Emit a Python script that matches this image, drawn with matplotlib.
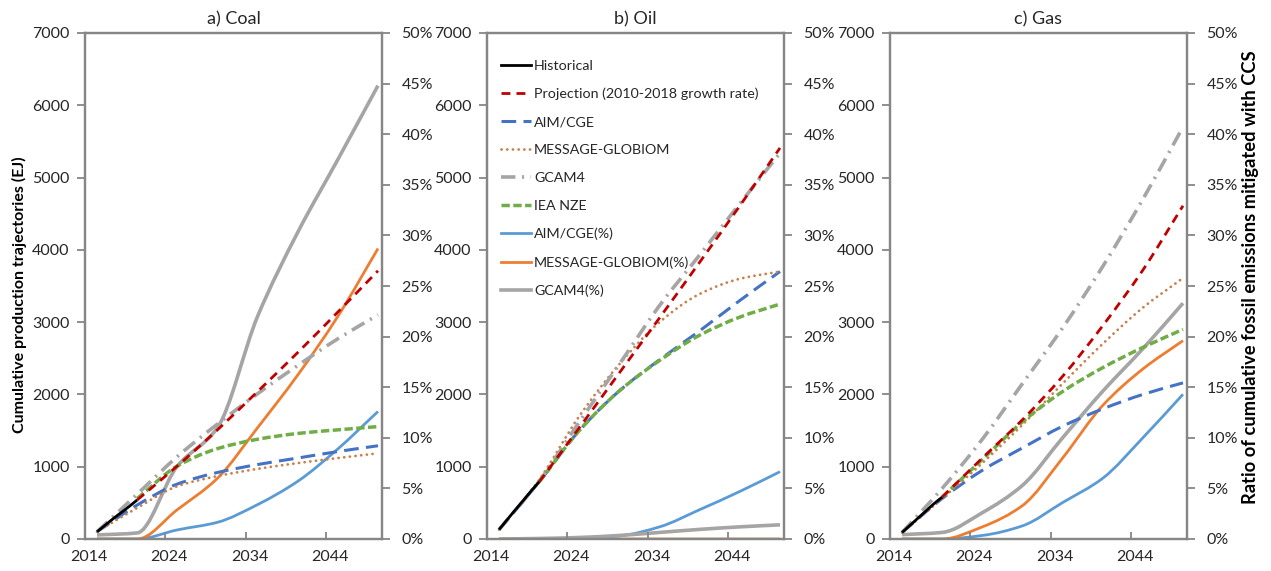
import matplotlib
matplotlib.use("Agg")
import matplotlib.pyplot as plt
from matplotlib.ticker import FixedLocator, NullFormatter
from matplotlib.path import Path
from matplotlib.patches import PathPatch
from matplotlib.lines import Line2D

plt.rcParams['font.family'] = ['Lato', 'DejaVu Sans']

# ---------------- data ----------------
hist_years = [2015, 2016, 2017, 2018, 2019, 2020]
years = [2015, 2020, 2025, 2030, 2035, 2040, 2045, 2050]
proj_years = [2020, 2025, 2030, 2035, 2040, 2045, 2050]

# Coal (EJ)
coal_hist = [100, 190, 280, 365, 450, 540]
coal_proj = [540, 1010, 1510, 2040, 2580, 3140, 3710]
coal_aim = [100, 470, 760, 920, 1030, 1120, 1210, 1290]
coal_message = [100, 430, 730, 870, 970, 1050, 1120, 1185]
coal_gcam = [100, 620, 1140, 1590, 2010, 2400, 2770, 3100]
coal_iea = [560, 1010, 1250, 1380, 1460, 1510, 1555]
# Coal, share mitigated with CCS (%)
coal_aim_pct = [0, 0, 0.9, 1.65, 3.4, 5.7, 8.9, 12.6]
coal_message_pct = [0, 0, 2.9, 6.0, 11.0, 16.2, 22.0, 28.7]
coal_gcam_pct = [0.4, 0.6, 7.2, 11.0, 22.0, 30.3, 37.5, 44.8]

# Oil (EJ)
oil_hist = [130, 265, 400, 530, 665, 790]
oil_proj = [790, 1540, 2300, 3060, 3830, 4610, 5410]
oil_aim = [130, 790, 1500, 2050, 2480, 2880, 3300, 3700]
oil_message = [130, 820, 1700, 2420, 3000, 3390, 3600, 3700]
oil_gcam = [130, 800, 1620, 2420, 3230, 3930, 4640, 5340]
oil_iea = [790, 1500, 2050, 2470, 2820, 3070, 3250]
# Oil (%)
oil_aim_pct = [0, 0, 0.05, 0.3, 1.2, 2.9, 4.7, 6.65]
oil_message_pct = [0, 0, 0, 0, 0, 0, 0]
oil_gcam_pct = [0, 0.05, 0.15, 0.35, 0.65, 0.95, 1.2, 1.4]

# Gas (EJ)
gas_hist = [90, 190, 290, 390, 490, 580]
gas_proj = [580, 1120, 1650, 2250, 2950, 3720, 4610]
gas_aim = [90, 560, 950, 1260, 1560, 1800, 2000, 2160]
gas_message = [90, 560, 1050, 1580, 2150, 2700, 3200, 3610]
gas_gcam = [90, 700, 1380, 2150, 2920, 3770, 4700, 5700]
gas_iea = [580, 1100, 1620, 2040, 2370, 2650, 2900]
# Gas (%)
gas_aim_pct = [0, 0, 0.35, 1.3, 3.6, 6.0, 10.0, 14.3]
gas_message_pct = [0, 0, 1.2, 3.3, 8.0, 13.2, 16.8, 19.6]
gas_gcam_pct = [0.43, 0.65, 2.6, 5.3, 10.0, 14.6, 18.8, 23.3]

panels = [
    ("a) Coal", coal_hist, coal_proj, coal_aim, coal_message, coal_gcam, coal_iea,
     coal_aim_pct, years, coal_message_pct, coal_gcam_pct),
    ("b) Oil", oil_hist, oil_proj, oil_aim, oil_message, oil_gcam, oil_iea,
     oil_aim_pct, proj_years, oil_message_pct, oil_gcam_pct),
    ("c) Gas", gas_hist, gas_proj, gas_aim, gas_message, gas_gcam, gas_iea,
     gas_aim_pct, years, gas_message_pct, gas_gcam_pct),
]

year_labels = [2014, 2024, 2034, 2044]
ej_ticks = [0, 1000, 2000, 3000, 4000, 5000, 6000, 7000]
pct_ticks = [0, 5, 10, 15, 20, 25, 30, 35, 40, 45, 50]

# ---------------- styles ----------------
SPINE = '#868686'
TXT = '#262626'
STYLES = {
    'Historical': dict(color='black', lw=2.0, ls='-'),
    'Projection (2010-2018 growth rate)': dict(color='#C00000', lw=2.0, ls=(0, (3.2, 2.2))),
    'AIM/CGE': dict(color='#4472C4', lw=2.2, ls=(0, (4.8, 2.4))),
    'MESSAGE-GLOBIOM': dict(color='#C8804E', lw=2.0, ls=(0, (0.05, 2.0)), capstyle='round'),
    'GCAM4': dict(color='#A5A5A5', lw=2.6, ls=(0, (4.0, 1.8, 0.6, 1.8))),
    'IEA NZE': dict(color='#70AD47', lw=2.5, ls=(0, (2.4, 1.0))),
    'AIM/CGE(%)': dict(color='#5B9BD5', lw=2.0, ls='-'),
    'MESSAGE-GLOBIOM(%)': dict(color='#ED7D31', lw=2.0, ls='-'),
    'GCAM4(%)': dict(color='#A5A5A5', lw=2.6, ls='-'),
}


def _tangents(x, y):
    """Shape-preserving (monotone) tangents, so the curve never overshoots."""
    n = len(x)
    d = [(y[i + 1] - y[i]) / (x[i + 1] - x[i]) for i in range(n - 1)]
    m = [0.0] * n
    m[0], m[-1] = d[0], d[-1]
    for i in range(1, n - 1):
        if d[i - 1] * d[i] <= 0:
            m[i] = 0.0
        else:
            h0, h1 = x[i] - x[i - 1], x[i + 1] - x[i]
            w1, w2 = 2 * h1 + h0, h1 + 2 * h0
            m[i] = (w1 + w2) / (w1 / d[i - 1] + w2 / d[i])
    return m


def smooth_line(ax, x, y, name, z=2):
    """Draw a series as a smooth cubic Bezier path through its points."""
    st = STYLES[name]
    m = _tangents(x, y)
    verts = [(x[0], y[0])]
    codes = [Path.MOVETO]
    for i in range(len(x) - 1):
        h = x[i + 1] - x[i]
        verts += [(x[i] + h / 3, y[i] + m[i] * h / 3),
                  (x[i + 1] - h / 3, y[i + 1] - m[i + 1] * h / 3),
                  (x[i + 1], y[i + 1])]
        codes += [Path.CURVE4] * 3
    patch = PathPatch(Path(verts, codes), fill=False, edgecolor=st['color'],
                      linewidth=st['lw'], linestyle=st['ls'], zorder=z)
    patch.set_capstyle(st.get('capstyle', 'butt'))
    patch.set_joinstyle('round')
    ax.add_patch(patch)


def proxy(name):
    st = STYLES[name]
    h = Line2D([], [], color=st['color'], lw=st['lw'], linestyle=st['ls'], label=name)
    if 'capstyle' in st:
        h.set_dash_capstyle(st['capstyle'])
    return h


fig = plt.figure(figsize=(12.71, 5.71), dpi=100)
lefts = [85, 487, 890]
W, H = 1271, 571
for (title, hist, proj, aim, msg, gcam, iea, aim_p, msg_p_years, msg_p, gcam_p), lpx in zip(panels, lefts):
    ax = fig.add_axes([lpx / W, 32 / H, 297 / W, 506 / H])
    ax2 = ax.twinx()
    ax.set_zorder(ax2.get_zorder() + 1)
    ax.patch.set_visible(False)

    # percentage series on the secondary axis
    smooth_line(ax2, years, aim_p, 'AIM/CGE(%)')
    smooth_line(ax2, msg_p_years, msg_p, 'MESSAGE-GLOBIOM(%)')
    smooth_line(ax2, years, gcam_p, 'GCAM4(%)')

    # production trajectories on the primary axis
    smooth_line(ax, years, aim, 'AIM/CGE')
    smooth_line(ax, years, msg, 'MESSAGE-GLOBIOM')
    smooth_line(ax, years, gcam, 'GCAM4')
    smooth_line(ax, proj_years, iea, 'IEA NZE')
    smooth_line(ax, proj_years, proj, 'Projection (2010-2018 growth rate)')
    smooth_line(ax, hist_years, hist, 'Historical', z=3)

    ax.set_xlim(2013.5, 2050.5)
    ax.set_ylim(0, 7000)
    ax2.set_ylim(0, 50)

    ax.set_xticks([y - 0.5 for y in year_labels])
    ax.xaxis.set_major_formatter(NullFormatter())
    ax.xaxis.set_minor_locator(FixedLocator(year_labels))
    ax.set_xticklabels([str(y) for y in year_labels], minor=True)
    ax.tick_params(axis='x', which='major', direction='in', length=5, width=1.3, color=SPINE)
    ax.tick_params(axis='x', which='minor', length=0, pad=8, labelsize=11.5, labelcolor=TXT)

    ax.set_yticks(ej_ticks)
    ax.tick_params(axis='y', direction='out', length=6, width=1.3, color=SPINE,
                   labelsize=11.5, labelcolor=TXT, pad=5)
    ax2.set_yticks(pct_ticks)
    ax2.set_yticklabels([f"{p}%" for p in pct_ticks])
    ax2.tick_params(axis='y', direction='out', length=6, width=1.3, color=SPINE,
                    labelsize=11.5, labelcolor=TXT, pad=8)

    for a in (ax, ax2):
        for s in a.spines.values():
            s.set_color(SPINE)
            s.set_linewidth(1.6)

    ax.set_title(title, fontsize=13, color=TXT, pad=6)

    if title == "b) Oil":
        names = ['Historical', 'Projection (2010-2018 growth rate)', 'AIM/CGE',
                 'MESSAGE-GLOBIOM', 'GCAM4', 'IEA NZE', 'AIM/CGE(%)',
                 'MESSAGE-GLOBIOM(%)', 'GCAM4(%)']
        ax.legend(handles=[proxy(n) for n in names], loc='upper left',
                  bbox_to_anchor=(0.0, 0.975), frameon=False, fontsize=10.3,
                  handlelength=2.1, handletextpad=0.2, labelspacing=1.11,
                  borderaxespad=0.6, labelcolor=TXT)

    if title == "a) Coal":
        ax.set_ylabel('Cumulative production trajectories (EJ)', fontsize=11.5,
                      fontweight='bold', color='black')
        ax.yaxis.set_label_coords(-0.195, 0.482)
    if title == "c) Gas":
        ax2.set_ylabel('Ratio of cumulative fossil emissions mitigated with CCS',
                       fontsize=13.2, fontweight='bold', color='black')
        ax2.yaxis.set_label_coords(1.186, 0.517)

fig.savefig('out.png', dpi=100)
